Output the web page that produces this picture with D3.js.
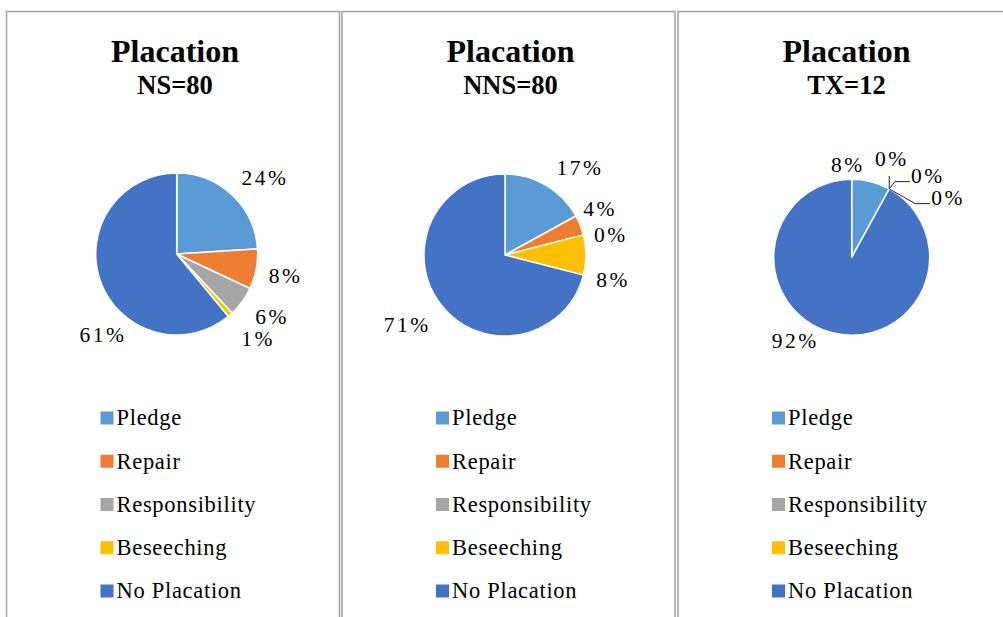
<!DOCTYPE html>
<html>
<head>
<meta charset="utf-8">
<script src="https://cdn.jsdelivr.net/npm/d3@7"></script>
<style>
  body { margin: 0; background: #fff; }
  svg { display: block; }
  text { font-family: "Liberation Serif", "Times New Roman", serif; fill: #000; }
</style>
</head>
<body>
<svg id="chart" width="1003" height="617"></svg>
<script>
// ---- data ----
const categories = ["Pledge", "Repair", "Responsibility", "Beseeching", "No Placation"];
const sliceColors = ["#5B9BD5", "#ED7D31", "#A5A5A5", "#FFC000", "#4472C4"];
const chartTitle = "Placation";
const groupLabels = ["NS=80", "NNS=80", "TX=12"];
const nsPercents  = [24, 8, 6, 1, 61];
const nnsPercents = [17, 4, 0, 8, 71];
const txPercents  = [8, 0, 0, 0, 92];
const groupPercents = [nsPercents, nnsPercents, txPercents];

// ---- layout (per panel) ----
const panelLayout = [
  { left: 6.5,  cx: 170.2, cy: 254,   r: 81,
    labels: [[48.9, 117], [100.9, 111], [123, 113.7], [136, 117], [222.6, 108.8]], leaders: false },
  { left: 342,  cx: 163,   cy: 255,   r: 81,
    labels: [[40.4, 115.6], [63.7, 106], [78.8, 108], [102.5, 110.6], [234.5, 120]], leaders: false },
  { left: 678,  cx: 173.7, cy: 257.3, r: 78,
    labels: [[357.7, 93.4], [22.1, 107], [42.8, 112], [58, 113.6], [214.4, 100]], leaders: true }
];
const panelWidth = 333;

const svg = d3.select("#chart");
const color = d3.scaleOrdinal().domain(categories).range(sliceColors);
const pie = d3.pie().sort(null).value(d => d.value);
const rad = deg => deg * Math.PI / 180;

groupPercents.forEach((values, i) => {
  const L = panelLayout[i];
  const g = svg.append("g").attr("transform", `translate(${L.left},0)`);

  // panel frame (open at the bottom/right edge of the page)
  g.append("rect")
    .attr("x", 0).attr("y", 11.5)
    .attr("width", panelWidth).attr("height", 640)
    .attr("fill", "#fff").attr("stroke", "#a6a6a6").attr("stroke-width", 1.6);

  // titles
  g.append("text").attr("x", panelWidth / 2 + 2).attr("y", 62)
    .attr("text-anchor", "middle").attr("font-size", 32).attr("font-weight", "bold")
    .text(chartTitle);
  g.append("text").attr("x", panelWidth / 2 + 2).attr("y", 94)
    .attr("text-anchor", "middle").attr("font-size", 26.5).attr("font-weight", "bold")
    .text(groupLabels[i]);

  // pie
  const data = categories.map((c, k) => ({ cat: c, value: values[k] }));
  const arcs = pie(data);
  const arc = d3.arc().innerRadius(0).outerRadius(L.r);
  const pg = g.append("g").attr("transform", `translate(${L.cx},${L.cy})`);
  pg.selectAll("path.slice").data(arcs.filter(a => a.data.value > 0)).join("path")
    .attr("class", "slice")
    .attr("d", arc)
    .attr("fill", d => color(d.data.cat))
    .attr("stroke", "#fff").attr("stroke-width", 1.5).attr("stroke-linejoin", "round");

  // data labels
  arcs.forEach((a, k) => {
    const [ang, dist] = L.labels[k];
    const x = dist * Math.sin(rad(ang));
    const y = -dist * Math.cos(rad(ang));
    const t = pg.append("text")
      .attr("x", x).attr("y", y).attr("dy", "0.36em")
      .attr("text-anchor", "middle").attr("font-size", 21.5)
      .attr("letter-spacing", 2.5)
      .text(a.data.value + "%");
    if (L.leaders && a.data.value === 0) {
      const bb = t.node().getBBox();
      const px = L.r * Math.sin(a.startAngle);
      const py = -L.r * Math.cos(a.startAngle);
      let path;
      if (Math.abs(x - px) < 10) {
        path = `M${px},${py}L${px},${bb.y + bb.height + 5}`;
      } else {
        const ex = bb.x - 1, ey = y + 6.5;
        path = `M${px},${py}L${ex - 15},${ey}L${ex},${ey}`;
      }
      pg.append("path").attr("d", path)
        .attr("fill", "none").attr("stroke", "#262626").attr("stroke-width", 1);
    }
  });

  // legend
  const lg = g.append("g").attr("transform", "translate(94,0)");
  const rowY = d3.scalePoint().domain(categories).range([418, 591]);
  const items = lg.selectAll("g.item").data(categories).join("g")
    .attr("class", "item")
    .attr("transform", d => `translate(0,${rowY(d)})`);
  items.append("rect").attr("x", 0).attr("y", -6.5).attr("width", 13).attr("height", 13)
    .attr("fill", d => color(d));
  items.append("text").attr("x", 16).attr("y", 0).attr("dy", "0.33em")
    .attr("font-size", 22.5).attr("letter-spacing", 0.7)
    .text(d => d);
});
</script>
</body>
</html>
